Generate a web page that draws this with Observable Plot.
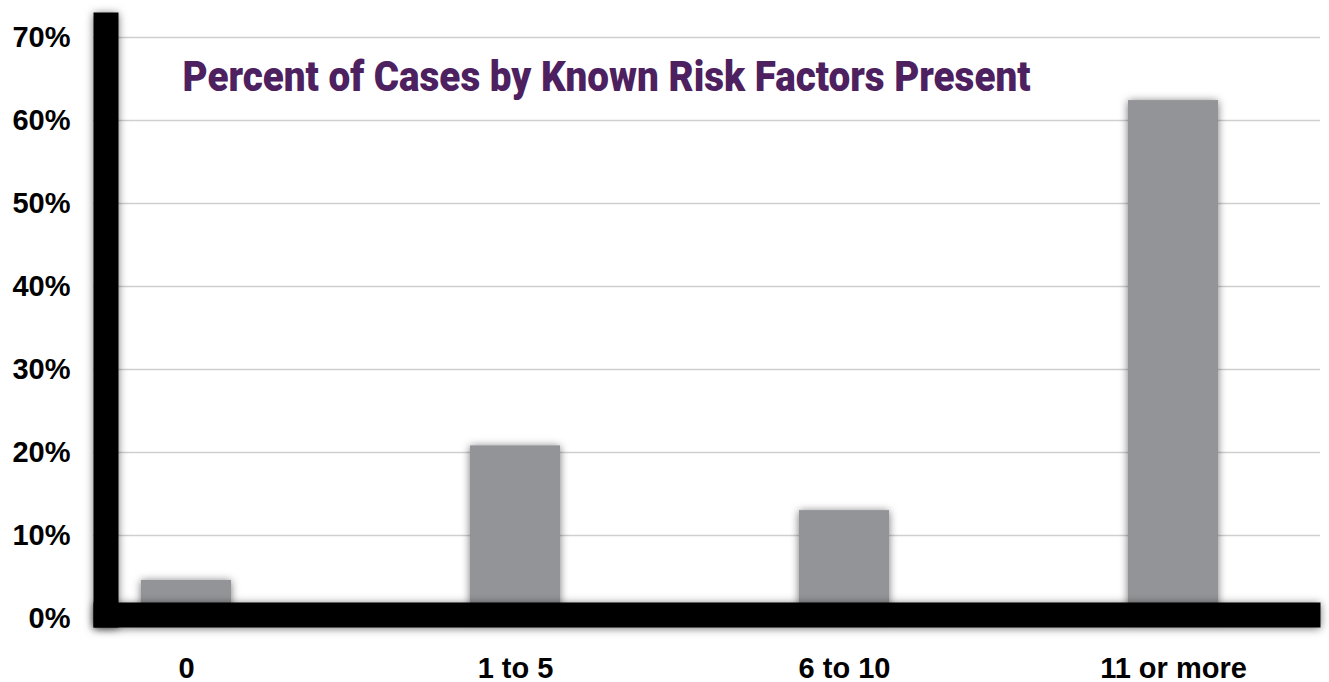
<!DOCTYPE html>
<html><head><meta charset="utf-8">
<script src="https://cdn.jsdelivr.net/npm/d3@7"></script>
<script src="https://cdn.jsdelivr.net/npm/@observablehq/plot@0.6"></script>
<style>
body{margin:0;background:#fff;}
#chart svg text{font-weight:bold;}
</style></head><body><div id="chart"></div>
<script>
const categories = ["0", "1 to 5", "6 to 10", "11 or more"];
const percents = [4.6, 20.8, 13.0, 62.4];
const yTicks = [0, 10, 20, 30, 40, 50, 60, 70];
const title = "Percent of Cases by Known Risk Factors Present";
const data = categories.map((c, i) => ({category: c, percent: percents[i]}));

const chart = Plot.plot({
  width: 1329, height: 682,
  marginTop: 12, marginBottom: 55, marginLeft: 93, marginRight: 9,
  style: {fontFamily: "'Liberation Sans', Arial, sans-serif", fontSize: "29px", color: "#000", background: "#fff", overflow: "visible"},
  x: {type: "band", domain: categories, paddingInner: 0.727, paddingOuter: 0, insetLeft: 47, insetRight: 102, label: null},
  y: {domain: [0, 70], insetTop: 25, insetBottom: 9, label: null},
  marks: [
    Plot.gridY(yTicks, {stroke: "#cfcfcf", strokeOpacity: 1, strokeWidth: 1.6}),
    Plot.barY(data, {x: "category", y: "percent", fill: "#939497"}),
    Plot.frame({anchor: "left", stroke: "#000", strokeWidth: 25, dx: 12.5, strokeLinecap: "butt"}),
    Plot.frame({anchor: "bottom", stroke: "#000", strokeWidth: 25, dy: -12.5, strokeLinecap: "butt"}),
    Plot.axisY(yTicks, {tickSize: 0, tickPadding: 23, tickFormat: d => d + "%", label: null, fill: "#000"}),
    Plot.axisX({tickSize: 0, tickPadding: 30, label: null, fill: "#000"}),
    Plot.text([title], {text: d => d, frameAnchor: "top-left", dx: 89, dy: 65, lineAnchor: "middle", textAnchor: "start",
      fill: "#4d2060", fontSize: 42, fontWeight: 900,
      fontFamily: "Roboto,'Liberation Sans',sans-serif"})
  ]
});
document.getElementById("chart").append(chart);

const svg = d3.select(chart);
const defs = svg.insert("defs", ":first-child");
const f = defs.append("filter").attr("id", "shadow").attr("filterUnits", "userSpaceOnUse")
  .attr("x", 0).attr("y", 0).attr("width", 1329).attr("height", 682);
f.append("feDropShadow").attr("dx", 0).attr("dy", 1).attr("stdDeviation", 4.5)
  .attr("flood-color", "#000").attr("flood-opacity", 0.55);
svg.selectAll('g[aria-label="bar"], [aria-label="frame"]').attr("filter", "url(#shadow)");
svg.selectAll('[aria-label="frame"]').attr("stroke-linecap", "butt");
svg.selectAll('[aria-label="frame"] *').attr("stroke-linecap", "butt");
svg.selectAll('g[aria-label="text"] text').each(function() {
  if (this.textContent === title) {
    d3.select(this).attr("textLength", 848).attr("lengthAdjust", "spacingAndGlyphs").style("font-weight", 900);
  }
});
</script></body></html>
